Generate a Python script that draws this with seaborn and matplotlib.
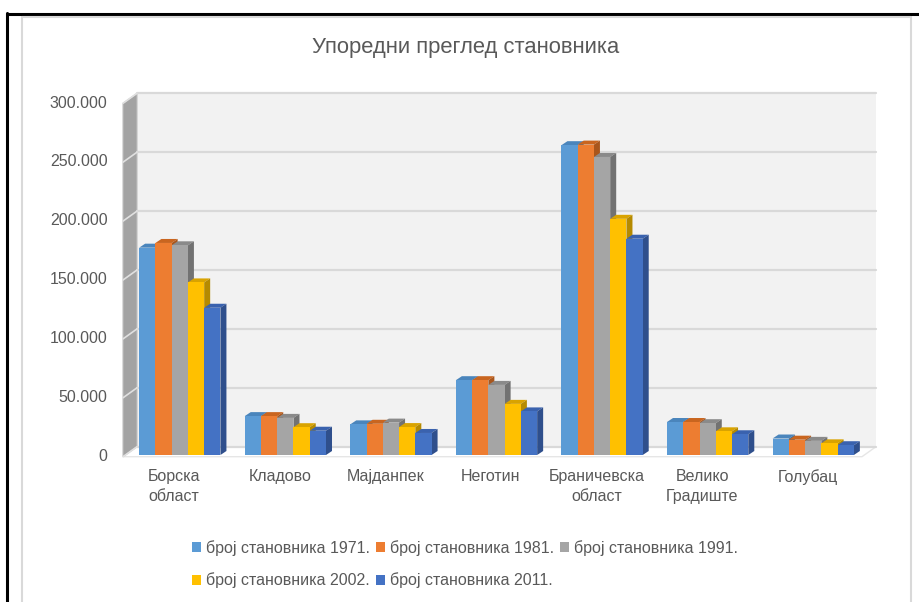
import numpy as np
import pandas as pd
import matplotlib
matplotlib.use('Agg')
import matplotlib.pyplot as plt
import seaborn as sns
from matplotlib.patches import Polygon, Rectangle
from matplotlib.transforms import ScaledTranslation

# Data
categories = ['Борска\nобласт', 'Кладово', 'Мајданпек', 'Неготин',
              'Браничевска\nобласт', 'Велико\nГрадиште', 'Голубац']
series = ['број становника 1971.', 'број становника 1981.', 'број становника 1991.',
          'број становника 2002.', 'број становника 2011.']
pop_1971 = [176000, 33000, 26000, 63500, 263000, 28000, 14000]
pop_1981 = [180000, 33000, 26500, 63500, 263500, 28000, 13000]
pop_1991 = [178000, 31500, 27500, 59500, 253000, 27000, 12000]
pop_2002 = [146500, 23600, 23700, 43400, 200500, 20100, 9900]
pop_2011 = [125000, 20600, 18700, 37000, 183600, 17600, 8300]
yticks = [0, 50000, 100000, 150000, 200000, 250000, 300000]

colors = ['#5B9BD5', '#ED7D31', '#A5A5A5', '#FFC000', '#4472C4']
top_colors = ['#4A85BC', '#C9651F', '#8A8A8A', '#D9A300', '#3A62AE']
side_colors = ['#3F6F9C', '#A9561C', '#727272', '#B58A00', '#2F4F8C']

df = pd.DataFrame({
    'region': np.repeat(categories, 5),
    'series': series * len(categories),
    'value': np.column_stack([pop_1971, pop_1981, pop_1991, pop_2002, pop_2011]).ravel(),
})

sns.set_theme(style='white')
plt.rcParams['font.family'] = ['Liberation Sans', 'DejaVu Sans']
text_color = '#595959'

W, H = 920, 602
fig = plt.figure(figsize=(W / 100, H / 100), dpi=100)

# background axes in pixel coordinates for frame / 3D walls
bg = fig.add_axes([0, 0, 1, 1], zorder=-5)
bg.set_xlim(0, W)
bg.set_ylim(H, 0)
bg.axis('off')
# excel frame lines
bg.plot([7, W], [13.5, 13.5], color='black', lw=2.2)
bg.plot([7.5, 7.5], [13, H], color='black', lw=2.2)
bg.plot([22.5, 22.5], [16.5, H], color='#d9d9d9', lw=1.5)
bg.plot([22, 911.5], [16.5, 16.5], color='#d9d9d9', lw=1.5)
bg.plot([911.5, 911.5], [16.5, H], color='#d9d9d9', lw=1.5)

# plane geometry (pixels)
front_x0, front_x1 = 123, 862
front_y0, front_top = 456.7, 103.3
ddx, ddy = 14, -10
scale = (front_y0 - front_top) / 300000

# back wall
bg.add_patch(Rectangle((front_x0 + ddx, front_top + ddy), front_x1 - front_x0,
                       front_y0 - front_top, facecolor='#f2f2f2', edgecolor='none'))
# floor
bg.add_patch(Polygon([(front_x0, front_y0), (front_x1, front_y0),
                      (front_x1 + ddx, front_y0 + ddy), (front_x0 + ddx, front_y0 + ddy)],
                     facecolor='white', edgecolor='#e6e6e6', lw=1))
# side wall
bg.add_patch(Polygon([(front_x0, front_y0), (front_x0 + ddx, front_y0 + ddy),
                      (front_x0 + ddx, front_top + ddy), (front_x0, front_top)],
                     facecolor='#a3a3a3', edgecolor='#bfbfbf', lw=0.8))
for t in yticks:
    yf = front_y0 - t * scale
    yb = yf + ddy
    bg.plot([front_x0 + ddx, front_x1 + ddx], [yb, yb], color='#d9d9d9', lw=1.6)
    bg.plot([front_x0, front_x0 + ddx], [yf, yb], color='#e0e0e0', lw=1.2)

# main axes = front plane for the bars
ax_left, ax_w = 127, 739
ax_bottom, ax_top = 455, 455 - 300000 * scale
ax = fig.add_axes([ax_left / W, (H - ax_bottom) / H, ax_w / W, (ax_bottom - ax_top) / H])
ax.patch.set_alpha(0)

sns.barplot(data=df, x='region', y='value', hue='series', palette=colors,
            width=0.77, gap=0, saturation=1, ax=ax, legend=True, linewidth=0)
ax.set_xlim(-0.5, len(categories) - 0.5)
ax.set_ylim(0, 300000)

# 3D faces for each bar
dx_data = 6 / (ax_w / len(categories))
dy_data = 4 / scale
for s_idx, cont in enumerate(ax.containers):
    for bar in cont:
        x = bar.get_x()
        w = bar.get_width()
        h = bar.get_height()
        ax.add_patch(Polygon([(x, h), (x + w, h), (x + w + dx_data, h + dy_data), (x + dx_data, h + dy_data)],
                             closed=True, facecolor=top_colors[s_idx], edgecolor='none', zorder=3))
        ax.add_patch(Polygon([(x + w, 0), (x + w, h), (x + w + dx_data, h + dy_data), (x + w + dx_data, dy_data)],
                             closed=True, facecolor=side_colors[s_idx], edgecolor='none', zorder=3))
for cont in ax.containers:
    for bar in cont:
        bar.set_zorder(4)

sns.despine(ax=ax, left=True, bottom=True)
ax.set_xlabel('')
ax.set_ylabel('')
ax.set_yticks(yticks)
ax.set_yticklabels([f'{t:,}'.replace(',', '.') for t in yticks], fontsize=11.5, color=text_color)
ax.tick_params(axis='y', length=0, pad=14)
ax.tick_params(axis='x', length=0, pad=10)
ax.set_xticks(range(len(categories)))
ax.set_xticklabels(categories, fontsize=11.5, color=text_color, linespacing=1.45, va='top')
shift = ScaledTranslation(-4 / 72, 0, fig.dpi_scale_trans)
for lab in ax.get_xticklabels():
    lab.set_transform(lab.get_transform() + shift)
ax.grid(False)

# legend in row-major order
handles, labels = ax.get_legend_handles_labels()
order = [0, 3, 1, 4, 2]
ax.legend([handles[i] for i in order], [labels[i] for i in order], ncol=3,
          loc='upper left', bbox_to_anchor=(184 / W, 1 - 532 / H), bbox_transform=fig.transFigure,
          frameon=False, fontsize=11.5, handlelength=0.55, handleheight=0.55, handletextpad=0.3,
          columnspacing=0.4, labelspacing=1.05, borderpad=0, labelcolor=text_color)

fig.text(466 / W, 1 - 48 / H, 'Упоредни преглед становника', ha='center', va='center',
         fontsize=15.8, color=text_color)

fig.savefig('out.png', dpi=100, facecolor='white')
